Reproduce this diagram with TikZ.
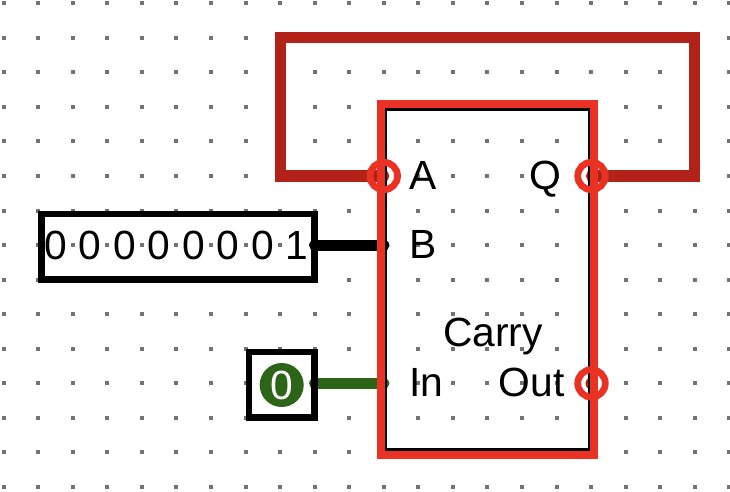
\documentclass[tikz,border=0pt]{standalone}
\usepackage{fontspec}
\setmainfont{Liberation Sans}
\definecolor{boxred}{RGB}{233,50,35}
\definecolor{wirered}{RGB}{178,34,24}
\definecolor{wiregreen}{RGB}{44,100,24}
\definecolor{dotgray}{RGB}{115,115,115}
\tikzset{
    wire/.style={line width=8pt, line cap=round},
    ring/.style={circle, draw=boxred, line width=4.8pt, minimum size=19.6pt, inner sep=0pt},
    lbl/.style={inner sep=0pt, font=\fontsize{29}{32}\selectfont},
    frame/.style={draw=black, line width=4.8pt}
}
\begin{document}
\begin{tikzpicture}[x=0.025cm,y=-0.025cm]

\useasboundingbox (0,0) rectangle (730,492);

% Grid dots
\foreach \i in {0,...,21} {
    \foreach \j in {0,...,14} {
        \fill[dotgray] ({1.7+34.55*\i},{1.3+34.55*\j}) rectangle +(4,4);
    }
}

% Ports
\coordinate (pA) at (383.75,176);
\coordinate (pB) at (383.75,245.2);
\coordinate (pIn) at (383.75,383.4);
\coordinate (pQ) at (591.5,176);
\coordinate (pOut) at (591.5,383.4);
\coordinate (pNum) at (314.7,245.2);
\coordinate (pBit) at (314.7,383.4);

% Corners of the feedback loop
\coordinate (c1) at (694.7,176);
\coordinate (c2) at (694.7,37.7);
\coordinate (c3) at (280.3,37.7);
\coordinate (c4) at (280.3,176);

% Wires
\draw[wire, wirered, line join=miter] (pQ) -- (c1) -- (c2) -- (c3) -- (c4) -- (pA);
\draw[wire, black] (pNum) -- (pB);
\draw[wire, wiregreen] (pBit) -- (pIn);
\fill[wirered] (pOut) circle (6);

% Input boxes
\draw[frame] (41.3,214) rectangle (314.7,279.3);
\draw[frame] (249,352) rectangle (314.7,417.7);

% Digits of the number
\foreach \n/\x/\val in {d1/55.5/0,d2/90/0,d3/124.6/0,d4/159.1/0,d5/193.7/0,d6/228.2/0,d7/262.8/0,d8/297.3/1} {
    \node[lbl] (\n) at (\x,245.2) {\val};
}

% Single bit
\node[circle, fill=wiregreen, minimum size=31.3pt, inner sep=0pt] (bit) at (281.7,385) {};
\node[lbl, text=white] (bitval) at (bit) {0};

% Circuit body
\draw[black, line width=3.4pt] (384.5,108.5) rectangle (590.5,450.5);
\draw[boxred, line width=5.8pt] (381,103.7) rectangle (594,455.3);

% Port rings
\node[ring] (ringA) at (pA) {};
\node[ring] (ringQ) at (pQ) {};
\node[ring] (ringOut) at (pOut) {};

% Labels
\node[lbl, anchor=base west] (lblA) at (409,189.5) {A};
\node[lbl, anchor=base west] (lblB) at (409,258) {B};
\node[lbl, anchor=base west] (lblIn) at (409,396.5) {In};
\node[lbl, anchor=base east] (lblQ) at (561,189.5) {Q};
\node[lbl, anchor=base east] (lblOut) at (565,396.5) {Out};
\node[lbl, anchor=base] (lblCarry) at (493,346) {Carry};

\end{tikzpicture}
\end{document}
